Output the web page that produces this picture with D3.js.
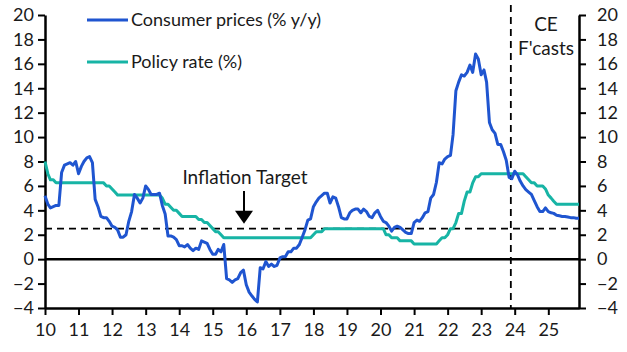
<!DOCTYPE html>
<html>
<head>
<meta charset="utf-8">
<script src="https://cdn.jsdelivr.net/npm/d3@7"></script>
<style>
  html, body { margin: 0; padding: 0; background: #fff; }
  svg text { font-family: Lato, "Open Sans", sans-serif; fill: #1a1a1a; }
</style>
</head>
<body>
<svg id="chart"></svg>
<script>
// monthly, Jan 2010 - Dec 2025 (forecasts from Dec 2023)
const cpi = [
  5.2, 4.5, 4.2, 4.3, 4.4, 4.4, 7.1, 7.7, 7.8, 7.9, 7.7, 8.0,        // 2010
  7.0, 7.6, 8.0, 8.3, 8.4, 7.9, 4.9, 4.3, 3.5, 3.4, 3.4, 3.1,        // 2011
  2.7, 2.6, 2.4, 1.8, 1.8, 2.0, 3.1, 3.9, 5.3, 5.0, 4.6, 5.0,        // 2012
  6.0, 5.7, 5.3, 5.3, 5.3, 5.4, 4.4, 3.7, 1.9, 1.9, 1.8, 1.6,        // 2013
  1.1, 1.1, 1.0, 1.2, 0.9, 0.7, 0.9, 0.8, 1.5, 1.4, 1.3, 0.8,        // 2014
  0.4, 0.4, 0.8, 0.6, 1.2, -1.6, -1.7, -1.9, -1.7, -1.6, -1.1, -0.9, // 2015
  -2.1, -2.7, -3.0, -3.3, -3.5, -0.7, -0.8, -0.2, -0.6, -0.4, -0.6, -0.5, // 2016
  0.1, 0.2, 0.2, 0.6, 0.6, 0.9, 0.9, 1.2, 1.8, 2.4, 3.2, 3.3,        // 2017
  4.3, 4.7, 5.0, 5.2, 5.4, 5.4, 4.6, 5.1, 5.0, 4.3, 3.4, 3.3,        // 2018
  3.3, 3.8, 4.0, 4.1, 4.1, 3.8, 4.1, 3.9, 3.5, 3.4, 3.8, 4.0,        // 2019
  3.5, 3.1, 3.0, 2.7, 2.3, 2.6, 2.7, 2.6, 2.4, 2.2, 2.1, 2.1,        // 2020
  3.0, 3.2, 3.1, 3.4, 3.8, 3.9, 5.0, 5.3, 6.3, 7.9, 7.8, 8.2,        // 2021
  8.4, 8.5, 10.2, 13.8, 14.5, 15.1, 15.0, 15.3, 15.9, 15.3, 16.8, 16.4, // 2022
  15.1, 15.5, 14.5, 11.2, 10.6, 10.3, 9.4, 9.4, 8.8, 8.1, 6.7, 6.6,  // 2023
  7.2, 6.9, 6.4, 6.0, 5.7, 5.5, 5.3, 4.8, 4.3, 3.9, 3.9, 4.2,        // 2024
  3.9, 3.8, 3.75, 3.6, 3.55, 3.5, 3.5, 3.45, 3.4, 3.4, 3.35, 3.35    // 2025
];

const policyRate = [
  8.0, 7.0, 6.5, 6.5, 6.25, 6.25, 6.25, 6.25, 6.25, 6.25, 6.25, 6.25,   // 2010
  6.25, 6.25, 6.25, 6.25, 6.25, 6.25, 6.25, 6.25, 6.25, 6.25, 6.0, 6.0, // 2011
  5.75, 5.5, 5.25, 5.25, 5.25, 5.25, 5.25, 5.25, 5.25, 5.25, 5.25, 5.25, // 2012
  5.25, 5.25, 5.25, 5.25, 5.25, 5.25, 5.0, 4.5, 4.5, 4.25, 4.0, 4.0,  // 2013
  3.75, 3.5, 3.5, 3.5, 3.5, 3.5, 3.5, 3.25, 3.25, 3.0, 3.0, 2.75,      // 2014
  2.5, 2.25, 2.25, 2.0, 1.75, 1.75, 1.75, 1.75, 1.75, 1.75, 1.75, 1.75, // 2015
  1.75, 1.75, 1.75, 1.75, 1.75, 1.75, 1.75, 1.75, 1.75, 1.75, 1.75, 1.75, // 2016
  1.75, 1.75, 1.75, 1.75, 1.75, 1.75, 1.75, 1.75, 1.75, 1.75, 1.75, 1.75, // 2017
  2.0, 2.25, 2.25, 2.25, 2.5, 2.5, 2.5, 2.5, 2.5, 2.5, 2.5, 2.5,      // 2018
  2.5, 2.5, 2.5, 2.5, 2.5, 2.5, 2.5, 2.5, 2.5, 2.5, 2.5, 2.5,         // 2019
  2.5, 2.5, 2.0, 2.0, 1.75, 1.75, 1.75, 1.5, 1.5, 1.5, 1.5, 1.5,      // 2020
  1.25, 1.25, 1.25, 1.25, 1.25, 1.25, 1.25, 1.25, 1.25, 1.5, 1.75, 1.75, // 2021
  2.0, 2.5, 2.5, 3.0, 3.75, 3.75, 4.75, 5.5, 5.5, 6.25, 6.75, 6.75,   // 2022
  7.0, 7.0, 7.0, 7.0, 7.0, 7.0, 7.0, 7.0, 7.0, 7.0, 7.0, 7.0,         // 2023
  7.0, 7.0, 7.0, 7.0, 6.75, 6.5, 6.25, 6.25, 6.0, 6.0, 6.0, 5.75,     // 2024
  5.25, 5.0, 4.75, 4.5, 4.5, 4.5, 4.5, 4.5, 4.5, 4.5, 4.5, 4.5        // 2025
];

const yearLabels = ['10', '11', '12', '13', '14', '15', '16', '17', '18', '19', '20', '21', '22', '23', '24', '25'];
const yTicks = [-4, -2, 0, 2, 4, 6, 8, 10, 12, 14, 16, 18, 20];
const INFLATION_TARGET = 2.5;
const FORECAST_START = new Date(2023, 10, 20);

const W = 627, H = 352;
const MARGIN = { top: 15, right: 48, bottom: 44, left: 45 };
const CPI_COLOR = '#1F55D0';
const POLICY_COLOR = '#17B4A5';

const dates = cpi.map((d, i) => new Date(2010, i, 1));

const svg = d3.select('#chart').attr('width', W).attr('height', H);

const x = d3.scaleTime()
    .domain([dates[0], dates[dates.length - 1]])
    .range([MARGIN.left, W - MARGIN.right]);

const y = d3.scaleLinear()
    .domain([-4, 20])
    .range([H - MARGIN.bottom, MARGIN.top]);

// reference lines
svg.append('line')
    .attr('x1', x.range()[0]).attr('x2', x.range()[1])
    .attr('y1', y(0)).attr('y2', y(0))
    .attr('stroke', '#000').attr('stroke-width', 2.5);

svg.append('line')
    .attr('x1', x.range()[0]).attr('x2', x.range()[1])
    .attr('y1', y(INFLATION_TARGET)).attr('y2', y(INFLATION_TARGET))
    .attr('stroke', '#000').attr('stroke-width', 1.8)
    .attr('stroke-dasharray', '7,5');

svg.append('line')
    .attr('x1', x(FORECAST_START)).attr('x2', x(FORECAST_START))
    .attr('y1', 5).attr('y2', y(-4))
    .attr('stroke', '#000').attr('stroke-width', 1.8)
    .attr('stroke-dasharray', '7,5');

// axes
const tickYears = yearLabels.map((d, i) => new Date(2010 + i, 0, 1));

const xAxis = svg.append('g')
    .attr('transform', `translate(0,${y(-4)})`)
    .call(d3.axisBottom(x).tickValues(tickYears).tickFormat((d, i) => yearLabels[i])
        .tickSize(7).tickSizeOuter(0).tickPadding(8));

const yLeft = svg.append('g')
    .attr('transform', `translate(${MARGIN.left},0)`)
    .call(d3.axisLeft(y).tickValues(yTicks).tickSize(7).tickSizeOuter(0).tickPadding(4));

const yRight = svg.append('g')
    .attr('transform', `translate(${W - MARGIN.right},0)`)
    .call(d3.axisRight(y).tickValues(yTicks).tickSize(7).tickSizeOuter(0).tickPadding(11));

[xAxis, yLeft, yRight].forEach(g => {
    g.select('.domain').attr('stroke', '#000').attr('stroke-width', 2.5);
    g.selectAll('.tick line').attr('stroke', '#000').attr('stroke-width', 2);
    g.selectAll('.tick text')
        .style('font-size', '18px')
        .style('font-family', 'Lato, sans-serif')
        .attr('fill', '#1a1a1a');
});

// series lines
const line = d3.line()
    .x((d, i) => x(dates[i]))
    .y(d => y(d));

svg.append('path')
    .datum(policyRate)
    .attr('fill', 'none')
    .attr('stroke', POLICY_COLOR)
    .attr('stroke-width', 3)
    .attr('stroke-linejoin', 'round')
    .attr('d', line);

svg.append('path')
    .datum(cpi)
    .attr('fill', 'none')
    .attr('stroke', CPI_COLOR)
    .attr('stroke-width', 3)
    .attr('stroke-linejoin', 'round')
    .attr('d', line);

// legend
const legendItems = [
    { label: 'Consumer prices (% y/y)', color: CPI_COLOR, y: 20 },
    { label: 'Policy rate (%)', color: POLICY_COLOR, y: 62 }
];

const legend = svg.append('g').selectAll('g')
    .data(legendItems)
    .enter().append('g');

legend.append('line')
    .attr('x1', 87).attr('x2', 128)
    .attr('y1', d => d.y).attr('y2', d => d.y)
    .attr('stroke', d => d.color)
    .attr('stroke-width', 3);

legend.append('text')
    .attr('x', 131)
    .attr('y', d => d.y)
    .attr('dy', '0.36em')
    .style('font-size', '18px')
    .text(d => d.label);

// annotations
svg.append('text')
    .attr('x', 245)
    .attr('y', 184)
    .attr('text-anchor', 'middle')
    .style('font-size', '19px')
    .text('Inflation Target');

const arrowX = 244;
const arrowTip = y(INFLATION_TARGET) - 5;
svg.append('line')
    .attr('x1', arrowX).attr('x2', arrowX)
    .attr('y1', 191).attr('y2', arrowTip - 10)
    .attr('stroke', '#000').attr('stroke-width', 2);

svg.append('path')
    .attr('d', `M${arrowX - 9},${arrowTip - 13}L${arrowX + 9},${arrowTip - 13}L${arrowX},${arrowTip}Z`)
    .attr('fill', '#000');

svg.append('text')
    .attr('x', 546)
    .attr('y', 31)
    .attr('text-anchor', 'middle')
    .style('font-size', '19px')
    .text('CE');

svg.append('text')
    .attr('x', 546)
    .attr('y', 55)
    .attr('text-anchor', 'middle')
    .style('font-size', '19px')
    .text("F'casts");
</script>
</body>
</html>
